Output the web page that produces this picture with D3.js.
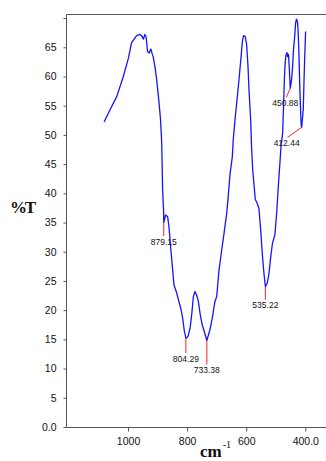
<!DOCTYPE html>
<html>
<head>
<meta charset="utf-8">
<script src="https://cdn.jsdelivr.net/npm/d3@7"></script>
<style>
  body { margin: 0; background: #fff; }
  svg { display: block; }
</style>
</head>
<body>
<div id="root"></div>
<script>
// spectrum: wavenumber (cm-1) and transmittance (%T)
const wavenumbers = [
  1081, 1061, 1038, 1016, 999, 988, 971, 960, 954, 948, 943, 939, 934, 929, 923, 919, 915, 909, 903, 896, 890, 886,
  883, 879.6, 879.15, 873, 866, 861.5, 855, 849, 844.5, 835, 828, 821, 815, 810, 804.29, 797, 790, 784, 779, 773.5,
  768, 762, 756.5, 749, 740, 733.38, 723, 714, 706, 700, 692, 683, 675, 666, 661, 655, 647, 644, 637, 630, 623.5,
  618, 613, 609, 603, 598.5, 594, 590, 585, 582, 578, 574, 569.5, 563, 557, 551, 545.7, 540, 535.22, 529, 523, 517,
  511, 503, 497, 490, 486, 482.4, 476.7, 473, 471, 469, 465.5, 462, 460, 457, 454.5, 452.5, 450.88, 446.6, 443, 440,
  436, 433, 430, 426.5, 424.5, 422, 420, 418, 415.6, 414, 412.44, 407, 404.6, 402.4, 400, 399
];
const transmittance = [
  52.2, 54.3, 56.6, 60.0, 63.1, 65.8, 67.0, 67.2, 67.0, 66.4, 67.2, 66.8, 64.3, 64.0, 64.7, 64.0, 63.4, 61.7, 59.4, 56.0, 52.6, 48.6,
  40.6, 36.9, 35.0, 36.3, 36.0, 34.3, 30.3, 26.9, 24.3, 22.9, 21.5, 20.2, 18.6, 16.6, 15.2, 15.5, 16.9, 19.5, 22.3, 23.2,
  22.6, 21.5, 19.5, 17.5, 16.0, 14.8, 16.6, 18.9, 21.5, 22.3, 26.9, 30.3, 33.2, 36.6, 39.4, 43.2, 46.3, 49.1, 53.1, 56.6, 60.0,
  63.1, 66.0, 67.0, 66.8, 65.4, 61.7, 57.1, 52.6, 48.0, 44.0, 41.7, 39.0, 38.3, 37.4, 33.7, 29.7, 26.3, 24.0, 24.6, 26.3, 29.2,
  31.5, 32.9, 36.6, 42.3, 45.2, 48.0, 50.3, 56.0, 59.4, 61.7, 63.7, 64.1, 63.4, 63.8, 61.7, 59.5, 58.0, 59.4, 61.7, 64.6,
  66.8, 69.1, 69.8, 69.4, 68.0, 64.6, 60.6, 57.1, 53.7, 51.7, 51.3, 54.3, 58.9, 62.8, 66.3, 67.7
];

// labelled peaks
const peakWavenumbers = [879.15, 804.29, 733.38, 535.22, 450.88, 412.44];
const peakValues = [35.0, 15.2, 14.8, 24.0, 58.0, 51.3];

const xTicks = [1000, 800, 600, 400];
const yTicks = [0, 5, 10, 15, 20, 25, 30, 35, 40, 45, 50, 55, 60, 65, 70];

const width = 326, height = 461;
const margin = { top: 14, left: 66, bottom: 34 };

const svg = d3.select('#root').append('svg')
  .attr('width', width)
  .attr('height', height)
  .attr('viewBox', [0, 0, width, height]);

const x = d3.scaleLinear().domain([1210, 330]).range([margin.left, width]);
const y = d3.scaleLinear().domain([0, 70.7]).range([height - margin.bottom, margin.top]);

// frame: top and left border plus bottom axis
svg.append('path')
  .attr('d', `M${width},${margin.top + 0.5}H${margin.left + 0.5}V${height - margin.bottom + 0.5}H${width}`)
  .attr('fill', 'none')
  .attr('stroke', '#555')
  .attr('stroke-width', 1);

// y axis
const yAxis = d3.axisLeft(y)
  .tickValues(yTicks)
  .tickSize(3)
  .tickPadding(7)
  .tickFormat((d) => d === 0 ? '0.0' : d === 70 ? '' : d);

svg.append('g')
  .attr('transform', `translate(${margin.left + 0.5},0)`)
  .call(yAxis)
  .call((g) => g.select('.domain').remove())
  .call((g) => g.selectAll('line').attr('stroke', '#555'))
  .call((g) => g.selectAll('text')
    .attr('font-family', 'Liberation Sans, Arial, sans-serif')
    .attr('font-size', 10.5)
    .attr('fill', '#111'));

// x axis
const xAxis = d3.axisBottom(x)
  .tickValues(xTicks)
  .tickSize(4)
  .tickPadding(6)
  .tickFormat((d) => d === 400 ? '400.0' : d);

svg.append('g')
  .attr('transform', `translate(0,${height - margin.bottom + 0.5})`)
  .call(xAxis)
  .call((g) => g.select('.domain').remove())
  .call((g) => g.selectAll('line').attr('stroke', '#555'))
  .call((g) => g.selectAll('text')
    .attr('font-family', 'Liberation Sans, Arial, sans-serif')
    .attr('font-size', 10.5)
    .attr('fill', '#111'));

// axis titles
svg.append('text')
  .attr('x', 10)
  .attr('y', 213)
  .attr('font-family', 'Liberation Serif, Times New Roman, serif')
  .attr('font-weight', 'bold')
  .attr('font-size', 17)
  .attr('textLength', 26)
  .attr('fill', '#111')
  .text('%T');

const xTitle = svg.append('text')
  .attr('x', 200)
  .attr('y', 457)
  .attr('font-family', 'Liberation Serif, Times New Roman, serif')
  .attr('font-weight', 'bold')
  .attr('font-size', 17)
  .attr('fill', '#111');
xTitle.append('tspan').text('cm');
xTitle.append('tspan')
  .attr('font-size', 10)
  .attr('font-weight', 'normal')
  .attr('dy', -9)
  .attr('dx', 1)
  .text('-1');

// spectrum line
const spectrum = wavenumbers.map((w, i) => ({ w, t: transmittance[i] }));

svg.append('path')
  .datum(spectrum)
  .attr('fill', 'none')
  .attr('stroke', '#1414ff')
  .attr('stroke-width', 1.3)
  .attr('stroke-linejoin', 'round')
  .attr('d', d3.line().x((d) => x(d.w)).y((d) => y(d.t)));

// peak markers: leader line from the point to the label
const leader = {
  879.15: [0, 13.5], 804.29: [0, 15], 733.38: [0, 24],
  535.22: [0, 13], 450.88: [-4, 9], 412.44: [-14, 10]
};
const peaks = peakWavenumbers.map((w, i) => ({ w, t: peakValues[i] }));

const marks = svg.append('g')
  .selectAll('g')
  .data(peaks)
  .join('g');

marks.append('line')
  .attr('x1', (d) => x(d.w))
  .attr('y1', (d) => y(d.t))
  .attr('x2', (d) => x(d.w) + leader[d.w][0])
  .attr('y2', (d) => y(d.t) + leader[d.w][1])
  .attr('stroke', '#ff2020')
  .attr('stroke-width', 1);

marks.append('text')
  .attr('x', (d) => x(d.w) + leader[d.w][0] - (leader[d.w][0] < 0 ? 1 : 0))
  .attr('y', (d) => y(d.t) + leader[d.w][1] + 8.5)
  .attr('text-anchor', 'middle')
  .attr('font-family', 'Liberation Sans, Arial, sans-serif')
  .attr('font-size', 8.5)
  .attr('fill', '#111')
  .text((d) => d3.format('.2f')(d.w));
</script>
</body>
</html>
